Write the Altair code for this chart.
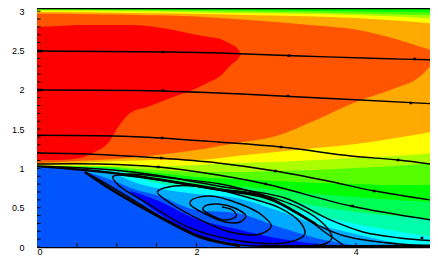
import altair as alt
import pandas as pd

XMAX = 4.931
YMAX = 3.034

grid = [0, .25, .5, .75, 1, 1.25, 1.5, 2, 2.5, 3, 3.5, 4, 4.5, 5.03]
top = [YMAX] * len(grid)

low_00aaff = [1.015, 1.011, .986, .916, .827, .725, .662, .471, .433, .267, .115, .019, -.02, -.03]
low_00ffff = [1.017, 1.014, .999, .967, .916, .814, .750, .675, .623, .471, .293, .165, .051, -.03]
low_00ffaa = [1.018, 1.017, 1.008, .992, .960, .891, .814, .750, .674, .547, .407, .293, .204, .115]
low_00ff55 = [1.02, 1.018, 1.013, 1.005, .980, .916, .865, .790, .720, .620, .522, .445, .394, .344]
low_00ff00 = [1.023, 1.02, 1.018, 1.011, .992, .941, .903, .827, .776, .725, .674, .636, .598, .573]
low_55ff00 = [1.025, 1.024, 1.022, 1.018, 1.005, .967, .941, .891, .865, .840, .814, .802, .789, .789]
low_aaff00 = [1.031, 1.028, 1.027, 1.024, 1.018, .992, .980, .954, .954, .967, .980, 1.005, 1.031, 1.069]
low_ffff00 = [1.040, 1.037, 1.037, 1.031, 1.031, 1.031, 1.031, 1.043, 1.069, 1.081, 1.107, 1.132, 1.158, 1.196]
low_ffaa00 = [1.050, 1.056, 1.069, 1.081, 1.094, 1.100, 1.107, 1.107, 1.158, 1.209, 1.260, 1.311, 1.387, 1.476]

hi_55ff00 = [3.024, 3.024, 3.023, 3.022, 3.022, 3.021, 3.019, 3.015, 3.011, 3.007, 3.003, 2.996, 2.990, 2.984]
hi_aaff00 = [3.018, 3.017, 3.015, 3.015, 3.013, 3.011, 3.009, 3.003, 2.996, 2.990, 2.984, 2.971, 2.958, 2.945]
hi_ffff00 = [3.009, 3.006, 3.004, 3.003, 3.0, 2.997, 2.995, 2.984, 2.977, 2.971, 2.965, 2.952, 2.933, 2.901]
hi_ffaa00 = [2.990, 2.990, 2.986, 2.984, 2.981, 2.977, 2.973, 2.965, 2.956, 2.945, 2.933, 2.914, 2.882, 2.837]

orange_x = [0, .25, .5, .75, 1, 1.25, 1.5, 2, 2.5, 3, 3.5, 4, 4.5, 4.78, 4.93, 5.03]
orange_lo = [1.069, 1.081, 1.094, 1.107, 1.120, 1.145, 1.171, 1.234, 1.323, 1.412, 1.616, 1.845, 2.023, 2.150, 2.30, 2.468]
orange_hi = [2.971, 2.967, 2.965, 2.961, 2.957, 2.952, 2.948, 2.933, 2.901, 2.863, 2.818, 2.767, 2.646, 2.557, 2.51, 2.468]

red_x = [0, .29, .54, .70, .92, .98, 1.17, 1.38, 1.71, 2.01, 2.16, 2.30, 2.43, 2.52, 2.56]
red_lo = [1.107, 1.107, 1.132, 1.196, 1.361, 1.463, 1.705, 1.781, 1.908, 2.023, 2.10, 2.176, 2.316, 2.39, 2.455]
red_hi = [2.799, 2.812, 2.825, 2.825, 2.825, 2.825, 2.825, 2.812, 2.761, 2.697, 2.672, 2.646, 2.583, 2.52, 2.455]

deep_x = [1.17, 1.5, 2, 2.5, 3, 3.5, 3.86]
deep_hi = [.712, .598, .356, .229, .115, .038, -.01]
deep_lo = [.700, .445, .165, .051, -.01, -.01, -.01]

bands = [
    ("#0055ff", [0, XMAX], [0, 0], [YMAX, YMAX]),
    ("#0000ff", deep_x, deep_lo, deep_hi),
    ("#00aaff", grid, low_00aaff, top),
    ("#00ffff", grid, low_00ffff, top),
    ("#00ffaa", grid, low_00ffaa, top),
    ("#00ff55", grid, low_00ff55, top),
    ("#00ff00", grid, low_00ff00, top),
    ("#55ff00", grid, low_55ff00, hi_55ff00),
    ("#aaff00", grid, low_aaff00, hi_aaff00),
    ("#ffff00", grid, low_ffff00, hi_ffff00),
    ("#ffaa00", grid, low_ffaa00, hi_ffaa00),
    ("#ff5500", orange_x, orange_lo, orange_hi),
    ("#ff0000", red_x, red_lo, red_hi),
]

streams = [
    ([0, 1.59, 2.30, 3.30, 4.30, 5.03], [2.494, 2.481, 2.468, 2.430, 2.398, 2.379]),
    ([0, 1.29, 2.27, 3.30, 5.03], [1.998, 1.991, 1.959, 1.908, 1.819]),
    ([0, .95, 1.54, 2.27, 3.06, 3.94, 4.53, 5.03], [1.421, 1.412, 1.387, 1.336, 1.272, 1.158, 1.107, 1.043]),
    ([0, .63, 1.54, 2.27, 2.99, 3.65, 4.24, 5.03], [1.196, 1.183, 1.132, 1.069, .967, .840, .712, .585]),
    ([0, .79, 1.52, 2.27, 2.87, 3.94, 5.03], [1.056, 1.056, 1.018, .916, .802, .522, .331]),
    ([0, .95, 1.48, 2.27, 3.11, 3.68, 4.09, 4.55, 5.03], [1.031, .980, .916, .776, .623, .344, .191, .115, .076]),
    ([0, .54, 1.42, 2.27, 2.86, 3.49, 3.86, 4.55, 5.03], [1.024, .980, .878, .738, .649, .293, .140, .038, .019]),
    ([.29, .95, 1.42, 2.27, 2.86, 3.30, 3.61, 3.86], [1.011, .948, .872, .725, .623, .420, .191, .013]),
]

spiral_x = [.60, .79, 1.17, 1.54, 2.05, 2.55, 3.17, 3.61, 3.70, 3.61, 3.30, 2.80, 2.30, 1.67, 1.17, .95,
            1.02, 1.42, 1.92, 2.55, 3.17, 3.36, 3.30, 3.05, 2.67, 2.17, 1.73, 1.51, 1.67, 2.05, 2.42, 2.80,
            2.94, 2.82, 2.55, 2.17, 1.94, 1.92, 2.11, 2.36, 2.55, 2.62, 2.48, 2.27, 2.11, 2.08, 2.21, 2.37,
            2.50, 2.45, 2.32]
spiral_y = [.954, .852, .623, .394, .140, .025, .013, .038, .115, .280, .496, .674, .802, .878, .929, .891,
            .789, .534, .242, .076, .064, .165, .318, .496, .623, .751, .776, .700, .560, .344, .191, .165,
            .267, .407, .547, .649, .598, .547, .420, .318, .318, .394, .496, .547, .522, .483, .394, .344,
            .394, .471, .509]
streams.append((spiral_x, spiral_y))

heavy = [
    ([.60, .95, 1.54, 2.05, 2.55], [.954, .72, .38, .125, .015]),
    ([1.0, 1.42, 2.27, 2.86, 3.2, 3.5], [.93, .875, .735, .640, .47, .29]),
    ([2.80, 5.03], [.006, .013]),
    ([0, .07], [2.494, 2.494]),
    ([0, .07], [1.998, 1.998]),
]

marker_x = [1.58, 3.16, 4.74, 1.58, 3.15, 4.69, 1.57, 3.06, 4.53, 1.56, 2.99, 4.23, 1.52, 2.87, 3.96, 4.83]
marker_y = [2.481, 2.436, 2.392, 1.991, 1.921, 1.832, 1.387, 1.272, 1.107, 1.132, .967, .712, 1.018, .802, .522, .115]

left_ticks = [i / 10 for i in range(0, 31)]
bottom_ticks = [.5, 1, 1.5, 2, 2.5, 3, 3.5, 4, 4.5]
y_labels = [0, .5, 1, 1.5, 2, 2.5, 3]
x_labels = [0, 2, 4]

xs = alt.Scale(domain=[0, XMAX], nice=False, zero=False)
ys = alt.Scale(domain=[0, YMAX], nice=False, zero=False)
xe = alt.X("x:Q", scale=xs, title=None,
           axis=alt.Axis(values=x_labels, format="d", tickSize=0, grid=False, labelPadding=0,
                         domainColor="black", domainWidth=1.5, labelColor="black",
                         labelFont="Liberation Sans", labelFontSize=9))
ye = alt.Y("y:Q", scale=ys, title=None,
           axis=alt.Axis(values=y_labels, format="~g", tickSize=0, grid=False, labelPadding=13,
                         domainColor="black", domainWidth=1, labelColor="black",
                         labelFont="Liberation Sans", labelFontSize=9))

layers = []
for color, bx, blo, bhi in bands:
    df = pd.DataFrame({"x": bx, "y": blo, "y2": bhi})
    layers.append(alt.Chart(df).mark_area(color=color, clip=True, opacity=1, interpolate="monotone").encode(x=xe, y=ye, y2="y2:Q"))

for sx, sy in streams:
    df = pd.DataFrame({"x": sx, "y": sy, "o": range(len(sx))})
    layers.append(alt.Chart(df).mark_line(color="black", strokeWidth=1.4, clip=True, interpolate="catmull-rom").encode(x=xe, y=ye, order="o:Q"))

for sx, sy in heavy:
    df = pd.DataFrame({"x": sx, "y": sy, "o": range(len(sx))})
    layers.append(alt.Chart(df).mark_line(color="black", strokeWidth=2.6, clip=True, interpolate="catmull-rom").encode(x=xe, y=ye, order="o:Q"))

layers.append(alt.Chart(pd.DataFrame({"x": marker_x, "y": marker_y})).mark_square(color="black", size=7, opacity=1, clip=True).encode(x=xe, y=ye))

layers.append(alt.Chart(pd.DataFrame({"y": left_ticks})).mark_rule(color="black", strokeWidth=1).encode(
    y=ye, x=alt.value(0), x2=alt.value(3.5)))
layers.append(alt.Chart(pd.DataFrame({"x": bottom_ticks})).mark_rule(color="black", strokeWidth=1).encode(
    x=xe, y=alt.value(234.5), y2=alt.value(238.5)))
layers.append(alt.Chart(pd.DataFrame({"y": [YMAX]})).mark_rule(color="black", strokeWidth=1.5).encode(
    y=ye, x=alt.value(0), x2=alt.value(393)))

chart = alt.layer(*layers).properties(
    width=393, height=238.5,
    background="white",
    autosize=alt.AutoSizeParams(type="none"),
    padding={"left": 29, "top": 0.5, "right": 0, "bottom": 8},
).configure_view(stroke=None)

chart.save("out.html", embed_options={"renderer": "svg", "actions": False})
